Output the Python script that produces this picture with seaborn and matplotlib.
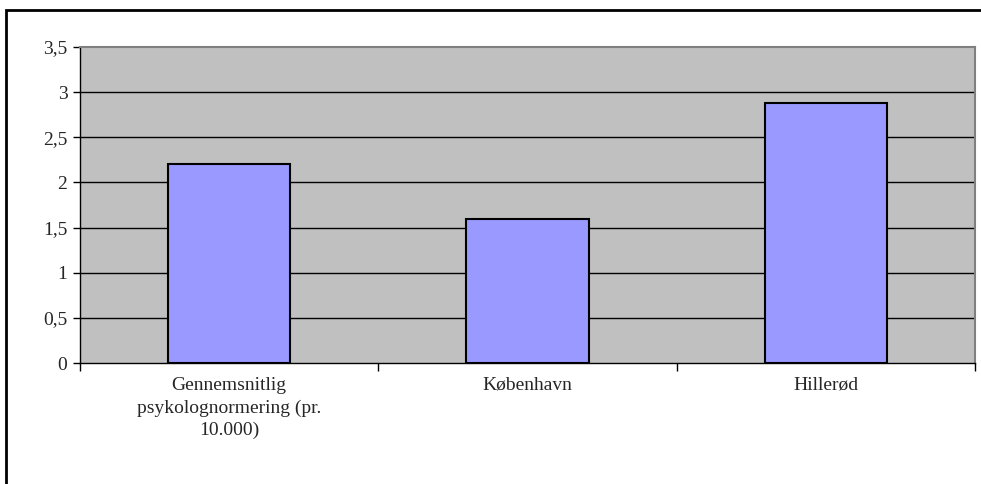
import matplotlib
matplotlib.use("Agg")
import matplotlib.pyplot as plt
import seaborn as sns
import pandas as pd
from matplotlib.patches import Rectangle

categories = ["Gennemsnitlig\npsykolognormering (pr.\n10.000)", "København", "Hillerød"]
values = [2.2, 1.6, 2.88]
yticks = [0, 0.5, 1, 1.5, 2, 2.5, 3, 3.5]
ytick_labels = ["0", "0,5", "1", "1,5", "2", "2,5", "3", "3,5"]

sns.set_theme(style="white")
plt.rcParams['font.family'] = ['Liberation Serif', 'DejaVu Serif']

W, H = 981, 484
fig = plt.figure(figsize=(W/100, H/100), dpi=100)
ax = fig.add_axes([80/W, 1-363/H, (975-80)/W, (363-47)/H])

df = pd.DataFrame({"cat": categories, "val": values})
sns.barplot(data=df, x="cat", y="val", ax=ax, color="#9999FF", saturation=1,
            width=0.41, edgecolor="black", linewidth=1.5, zorder=3)

ax.set_facecolor("#C0C0C0")
ax.set_ylim(0, 3.5)
ax.set_xlim(-0.5, 2.5)
ax.set_yticks(yticks)
ax.set_yticklabels(ytick_labels, fontsize=14)
for y in yticks[1:-1]:
    ax.axhline(y, color="black", linewidth=1, zorder=1)
ax.set_xlabel("")
ax.set_ylabel("")
ax.set_xticks([0, 1, 2])
ax.set_xticklabels(categories, fontsize=14, linespacing=1.4, va="top")
ax.tick_params(axis="x", length=0, pad=10)
# category boundary ticks
ax.set_xticks([-0.5, 0.5, 1.5, 2.5], minor=True)
ax.tick_params(axis="x", which="minor", length=6, width=1, color="black", direction="out")
ax.tick_params(axis="y", length=5, width=1, color="black", direction="out", pad=4)
ax.yaxis.set_ticks_position("left")
ax.xaxis.set_ticks_position("bottom")
ax.tick_params(axis="x", which="major", length=0)

for s in ["top", "right"]:
    ax.spines[s].set_color("#808080")
    ax.spines[s].set_linewidth(1.5)
for s in ["left", "bottom"]:
    ax.spines[s].set_color("black")
    ax.spines[s].set_linewidth(1)

# outer chart frame (cropped at right and bottom)
fig.patches.append(Rectangle((6/W, -0.1), 1.2, 1 - 10/H + 0.1, transform=fig.transFigure,
                             fill=False, edgecolor="black", linewidth=2))

fig.savefig("out.png", dpi=100, facecolor="white")
